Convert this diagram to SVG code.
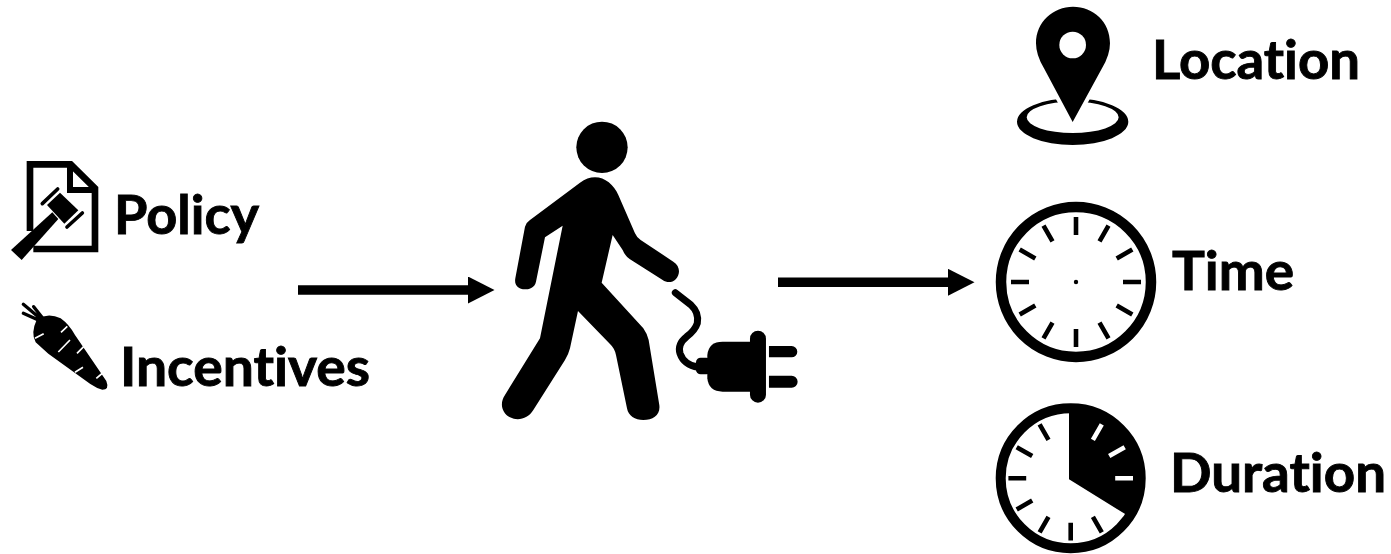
<svg xmlns="http://www.w3.org/2000/svg" width="1391" height="554" viewBox="0 0 1391 554">
<style>
text{font-family:"Lato","Open Sans","Liberation Sans",sans-serif;font-weight:700;font-size:54px;font-variant-ligatures:none;fill:#000;stroke:#000;stroke-width:.9px}
.k{fill:#000}
.tick{stroke:#000;stroke-width:4.6;fill:none}
.wtick{stroke:#fff;stroke-width:4.6;fill:none}
.conn{stroke:#000;stroke-width:9.6;fill:none;marker-end:url(#ah)}
</style>
<defs>
<marker id="ah" viewBox="0 0 27 27" refX="0" refY="13.5" markerWidth="27" markerHeight="27" markerUnits="userSpaceOnUse" orient="auto"><path d="M0,0 L26.5,13.5 L0,27 Z" fill="#000"/></marker>
</defs>
<rect width="1391" height="554" fill="#fff"/>
<g id="connectors">
<path class="conn" d="M298,290 H468"/>
<path class="conn" d="M778,282.3 H948"/>
</g>
<g id="policy">
<g transform="translate(5,155) scale(.3333)">
<path d="M75,228 V28 H197 L270,100 V282 H85" fill="none" stroke="#000" stroke-width="20"/>
<path d="M195,28 V105 H270" fill="none" stroke="#000" stroke-width="18"/>
<path class="k" d="M18,285 L142,172 L160,192 L50,315 Z"/>
<path class="k" d="M126,150 L165,113 L220,166 L178,206 Z"/>
<path d="M112,146 L158,102 M186,216 L232,174" stroke="#000" stroke-width="11" stroke-linecap="round" fill="none"/>
</g>
<text x="114" y="234" textLength="145" lengthAdjust="spacingAndGlyphs">Policy</text>
</g>
<g id="incentives">
<g transform="translate(15,295) scale(.3333)">
<path d="M75,70 L25,28 M82,68 L56,35 M70,75 L25,55" stroke="#000" stroke-width="10" stroke-linecap="round" fill="none"/>
<path class="k" d="M66,72 Q100,52 137,70 Q162,88 180,120 L274,258 Q284,284 262,284 Q245,280 226,267 L100,176 L62,142 Q46,115 66,72 Z"/>
<path d="M138,112 L157,94 M60,130 L86,116 M130,171 L165,135 M186,175 L206,155 M180,232 L204,217 M244,250 L263,234" stroke="#fff" stroke-width="5" fill="none"/>
</g>
<text x="120" y="386" textLength="250" lengthAdjust="spacingAndGlyphs">Incentives</text>
</g>
<g id="person">
<g transform="translate(490,110) scale(.3333)">
<circle class="k" cx="336" cy="112" r="77"/>
<path class="k" d="M315,202 C345,202 372,225 385,255 L435,370 Q440,382 452,390 L550,455 C570,468 572,490 558,507 C545,520 530,518 518,510 L420,448 Q405,438 398,420 L368,375 L335,518 L460,655 Q472,672 476,690 L508,885 C512,915 490,930 460,930 C435,930 415,918 411,895 L378,735 Q374,715 360,702 L264,603 L240,715 Q235,735 225,750 L130,900 C115,925 85,935 60,922 C35,908 28,880 45,855 L150,685 L218,347 L165,382 L138,515 C134,535 115,538 105,538 C85,538 72,525 76,505 L105,350 Q108,338 120,330 L270,218 C285,207 300,202 315,202 Z"/>
</g>
</g>
<g id="plug">
<g transform="translate(490,110) scale(.3333)">
<path d="M556,548 L603,585 Q628,608 622,640 Q615,662 590,680 Q562,702 570,730 Q582,765 625,772" fill="none" stroke="#000" stroke-width="21" stroke-linecap="round"/>
<rect class="k" x="618" y="743" width="45" height="50" rx="14"/>
<path class="k" d="M652,735 Q656,695 698,695 H790 V845 H698 Q656,845 652,805 Z"/>
<rect class="k" x="780" y="662" width="48" height="216" rx="24"/>
<path class="k" d="M837,708 H905 A17,17 0 0 1 905,742 H837 Z M837,797 H905 A18,18 0 0 1 905,833 H837 Z"/>
</g>
</g>
<g id="location">
<g transform="translate(980,0) scale(.3333)">
<path fill-rule="evenodd" class="k" d="M111,365 A167,70 0 1 1 445,365 A167,70 0 1 1 111,365 Z M140,352 A138,47 0 1 0 416,352 A138,47 0 1 0 140,352 Z"/>
<path d="M278,366 L192,205 Q168,165 168,130 C168,65 220,20 279,20 C340,20 390,65 390,130 Q390,165 366,205 Z" fill="#000" stroke="#fff" stroke-width="24" paint-order="stroke"/>
<circle cx="278" cy="135" r="40" fill="#fff"/>
</g>
<text x="1152" y="79" textLength="208" lengthAdjust="spacingAndGlyphs">Location</text>
</g>
<g id="time">
<circle cx="1076" cy="282" r="75" fill="#fff" stroke="#000" stroke-width="10.5"/>
<g transform="translate(1076,282)">
<g class="tick">
<path d="M0,-47 V-65 M0,47 V65 M47,0 H65 M-47,0 H-65"/>
<path d="M23.5,-40.7 L32.5,-56.3 M40.7,-23.5 L56.3,-32.5 M40.7,23.5 L56.3,32.5 M23.5,40.7 L32.5,56.3 M-23.5,40.7 L-32.5,56.3 M-40.7,23.5 L-56.3,32.5 M-40.7,-23.5 L-56.3,-32.5 M-23.5,-40.7 L-32.5,-56.3"/>
</g>
<circle class="k" r="2.2"/>
</g>
<text x="1172" y="290" textLength="122" lengthAdjust="spacingAndGlyphs">Time</text>
</g>
<g id="duration">
<circle cx="1070.7" cy="478.3" r="70" fill="#fff" stroke="#000" stroke-width="10"/>
<path class="k" d="M1069,479.3 V410 A68,68 0 0 1 1127.6,515.6 Z"/>
<g transform="translate(1070.7,478.3)">
<path class="tick" d="M0,44.5 V62.3 M-44.5,0 H-62.3 M22.2,38.5 L31.1,54 M-22.2,38.5 L-31.1,54 M-38.5,22.2 L-54,31.1 M-38.5,-22.2 L-54,-31.1 M-22.2,-38.5 L-31.1,-54"/>
<path class="wtick" d="M44.5,0 H62.3 M22.2,-38.5 L31.1,-54 M38.5,-22.2 L54,-31.1"/>
</g>
<text x="1170" y="492" textLength="216" lengthAdjust="spacingAndGlyphs">Duration</text>
</g>
</svg>
